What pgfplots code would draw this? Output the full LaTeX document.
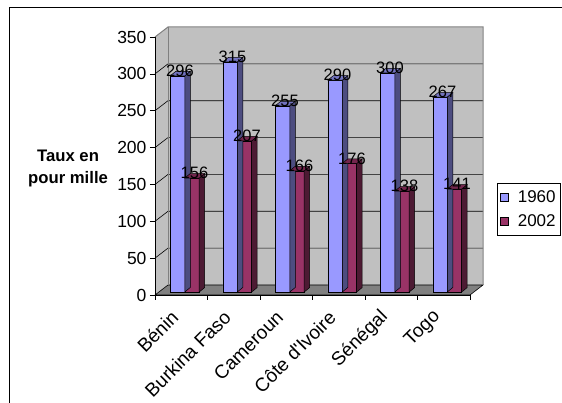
\documentclass[border=0pt]{standalone}
\usepackage{fontspec}
\setmainfont{Liberation Sans}
\usepackage{pgfplots}
\usepackage{pgfplotstable}
\pgfplotsset{compat=1.18}

\definecolor{blueFront}{HTML}{9999FF}
\definecolor{blueSide}{HTML}{4D4D80}
\definecolor{blueTop}{HTML}{7373BF}
\definecolor{redFront}{HTML}{993366}
\definecolor{redSide}{HTML}{4D1A33}
\definecolor{redTop}{HTML}{73264D}
\definecolor{wallgray}{HTML}{C0C0C0}
\definecolor{floorgray}{HTML}{808080}

\newcommand\tickfont{\fontsize{17.5}{21}\selectfont}
\newcommand\catfont{\fontsize{19}{22.5}\selectfont}
\newcommand\valfont{\fontsize{16.5}{20}\selectfont}
\newcommand\legfont{\fontsize{17}{20.5}\selectfont}
\newcommand\labfont{\fontsize{16.7}{22.5}\selectfont\bfseries}

% taux en pour mille
\pgfplotstableread{
x y
0.5 296
1.5 315
2.5 255
3.5 290
4.5 300
5.5 267
}\dataA
\pgfplotstableread{
x y
0.5 156
1.5 207
2.5 166
3.5 176
4.5 138
5.5 141
}\dataB

% geometry of the 3D columns
\def\bw{14.49pt}   % column width
\def\dx{5.5pt}     % depth, horizontal
\def\dy{4.5pt}     % depth, vertical
\def\ypt{0.73029}  % pt per unit on the value axis

% side and top faces of a column; #2 = right edge offset from the data point
\newcommand\declarebarmarks[2]{%
  \pgfdeclareplotmark{side#1}{%
    \pgfmathsetmacro\bh{\barval*\ypt}%
    \pgfpathmoveto{\pgfpoint{#2}{0pt}}%
    \pgfpathlineto{\pgfpoint{#2+\dx}{\dy}}%
    \pgfpathlineto{\pgfpoint{#2+\dx}{\dy-\bh pt}}%
    \pgfpathlineto{\pgfpoint{#2}{-\bh pt}}%
    \pgfpathclose
    \pgfusepathqfillstroke}%
  \pgfdeclareplotmark{top#1}{%
    \pgfpathmoveto{\pgfpoint{#2}{0pt}}%
    \pgfpathlineto{\pgfpoint{#2-\bw}{0pt}}%
    \pgfpathlineto{\pgfpoint{#2-\bw+\dx}{\dy}}%
    \pgfpathlineto{\pgfpoint{#2+\dx}{\dy}}%
    \pgfpathclose
    \pgfusepathqfillstroke}%
}
\declarebarmarks{L}{0pt}
\declarebarmarks{R}{14.49pt}

\begin{document}
\begin{tikzpicture}[x=1pt,y=1pt]
\useasboundingbox (0,0) rectangle (562,403);
% outer frame
\draw[line width=1.5pt] (9.5,0) -- (9.5,395.5) -- (562,395.5);

% frame: walls, floor, value axis
\begin{axis}[
  at={(155pt,108pt)}, anchor=south west,
  scale only axis, width=315pt, height=258pt,
  xmin=0, xmax=6, ymin=0, ymax=350,
  axis on top=true, clip=false,
  axis x line*=bottom, axis y line*=left,
  axis line style={-, black, line width=0.6pt},
  tick style={black, line width=0.6pt},
  tick align=outside, major tick length=5pt,
  xtick={0,1,...,6}, xticklabels={},
  ytick={0,50,...,350},
  extra x ticks={0.5,1.5,2.5,3.5,4.5,5.5},
  extra x tick labels={Bénin,Burkina Faso,Cameroun,Côte d\textquotesingle Ivoire,Sénégal,Togo},
  extra x tick style={major tick length=0pt,
    tick label style={rotate=45, anchor=east, inner sep=0pt, font=\catfont, xshift=-18pt, yshift=-9pt}},
  /pgf/number format/assume math mode=true,
  tick label style={font=\tickfont, black},
  every axis y label/.style={at={(axis description cs:-0.276,0.49)}, anchor=center,
    align=center, font=\labfont},
  ylabel={Taux en\\pour mille},
]
  % back wall
  \fill[wallgray] ([shift={(13pt,10pt)}]axis cs:0,0) rectangle ([shift={(13pt,10pt)}]axis cs:6,350);
  % left wall
  \fill[wallgray] (axis cs:0,0) -- ([shift={(13pt,10pt)}]axis cs:0,0)
     -- ([shift={(13pt,10pt)}]axis cs:0,350) -- (axis cs:0,350) -- cycle;
  % floor
  \filldraw[fill=floorgray, draw=black, line width=0.6pt] (axis cs:0,0) -- (axis cs:6,0)
     -- ([shift={(13pt,10pt)}]axis cs:6,0) -- ([shift={(13pt,10pt)}]axis cs:0,0) -- cycle;
  % gridlines
  \pgfplotsinvokeforeach{50,100,150,200,250,300}{
    \draw[black, line width=0.6pt] (axis cs:0,#1) -- ([shift={(13pt,10pt)}]axis cs:0,#1)
      -- ([shift={(13pt,10pt)}]axis cs:6,#1);
  }
  % wall borders
  \draw[floorgray, line width=1pt] (axis cs:0,350) -- ([shift={(13pt,10pt)}]axis cs:0,350)
     -- ([shift={(13pt,10pt)}]axis cs:6,350) -- ([shift={(13pt,10pt)}]axis cs:6,0);
  \draw[floorgray, line width=1pt] ([shift={(13pt,10pt)}]axis cs:0,0) -- ([shift={(13pt,10pt)}]axis cs:0,350);
\end{axis}

% columns
\begin{axis}[
  at={(158.5pt,111pt)}, anchor=south west,
  scale only axis, width=315pt, height=255.6pt,
  xmin=0, xmax=6, ymin=0, ymax=350,
  hide axis, clip=false,
  /pgf/number format/assume math mode=true,
  legend style={at={(1.0746,0.4264)}, anchor=north west, draw=black, line width=0.6pt,
    fill=white, font=\legfont, inner xsep=3pt, inner ysep=5pt,
    row sep=7pt, cells={anchor=west, inner xsep=2pt, inner ysep=3pt},
    /tikz/every odd column/.append style={column sep=7pt}},
]
  \addplot[ybar, bar width=0.276, bar shift=-0.138, fill=blueFront, draw=black, line width=0.5pt,
    legend image code/.code={\draw[fill=blueFront, draw=black, line width=0.5pt] (0pt,-4pt) rectangle (8pt,4pt);}]
    table {\dataA};
  \addlegendentry{1960}
  \addplot[forget plot, only marks, mark=sideL, mark options={fill=blueSide, draw=black, line width=0.5pt},
    visualization depends on={rawy \as \barval}] table {\dataA};
  \addplot[forget plot, only marks, mark=topL, mark options={fill=blueTop, draw=black, line width=0.5pt},
    visualization depends on={rawy \as \barval}] table {\dataA};

  \addplot[ybar, bar width=0.276, bar shift=0.138, fill=redFront, draw=black, line width=0.5pt,
    legend image code/.code={\draw[fill=redFront, draw=black, line width=0.5pt] (0pt,-4pt) rectangle (8pt,4pt);}]
    table {\dataB};
  \addlegendentry{2002}
  \addplot[forget plot, only marks, mark=sideR, mark options={fill=redSide, draw=black, line width=0.5pt},
    visualization depends on={rawy \as \barval}] table {\dataB};
  \addplot[forget plot, only marks, mark=topR, mark options={fill=redTop, draw=black, line width=0.5pt},
    visualization depends on={rawy \as \barval}] table {\dataB};

  % value labels
  \addplot[forget plot, draw=none, nodes near coords, point meta=rawy,
    every node near coord/.append style={anchor=center, xshift=-4.75pt, yshift=5pt,
      font=\valfont, text=black, inner sep=0pt}] table {\dataA};
  \addplot[forget plot, draw=none, nodes near coords, point meta=rawy,
    every node near coord/.append style={anchor=center, xshift=9.75pt, yshift=5pt,
      font=\valfont, text=black, inner sep=0pt}] table {\dataB};
\end{axis}
\end{tikzpicture}
\end{document}
